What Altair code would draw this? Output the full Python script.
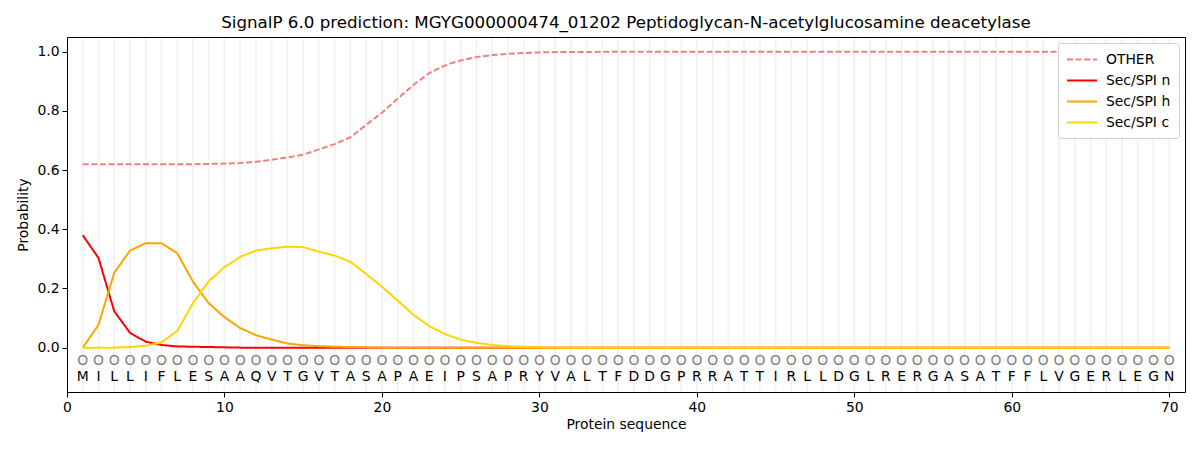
import altair as alt
import pandas as pd

residues = list("MILLIFLESAAQVTGVTASAPAEIPSAPRYVALTFDDGPRRATTIRLLDGLRERGASATFFLVGERLEGN")
n = len(residues)
positions = list(range(1, n + 1))

other_head = [0.620, 0.620, 0.620, 0.620, 0.620, 0.620, 0.620, 0.620, 0.621, 0.622,
              0.624, 0.628, 0.635, 0.643, 0.652, 0.670, 0.688, 0.711, 0.753, 0.794,
              0.842, 0.888, 0.928, 0.954, 0.971, 0.982, 0.989, 0.993, 0.996, 0.998]
other = other_head + [0.999] * 3 + [1.0] * (n - 33)

sp_n_head = [0.380, 0.303, 0.123, 0.050, 0.020, 0.009, 0.004, 0.003, 0.002, 0.001]
sp_n = sp_n_head + [0.0] * (n - len(sp_n_head))

sp_h_head = [0.0, 0.077, 0.253, 0.328, 0.353, 0.353, 0.319, 0.223, 0.150, 0.103,
             0.066, 0.042, 0.027, 0.014, 0.008, 0.005, 0.003, 0.002, 0.001]
sp_h = sp_h_head + [0.0] * (n - len(sp_h_head))

sp_c_head = [0.0, 0.0, 0.0, 0.002, 0.006, 0.018, 0.056, 0.151, 0.224, 0.272,
             0.307, 0.328, 0.336, 0.341, 0.340, 0.324, 0.311, 0.290, 0.249, 0.206,
             0.159, 0.111, 0.073, 0.046, 0.027, 0.016, 0.009, 0.005, 0.003, 0.001]
sp_c = sp_c_head + [0.0] * (n - len(sp_c_head))

series_names = ["OTHER", "Sec/SPI n", "Sec/SPI h", "Sec/SPI c"]
series_values = [other, sp_n, sp_h, sp_c]
series_colors = ["#F08080", "#FF0000", "#FFA500", "#FFD700"]
series_dash = [[6, 2.6], [1, 0], [1, 0], [1, 0]]

rows = []
for name, vals in zip(series_names, series_values):
    for p, v in zip(positions, vals):
        rows.append({"pos": p, "prob": v, "series": name})
lines_df = pd.DataFrame(rows)

seq_df = pd.DataFrame({"pos": positions, "res": residues})

x_scale = alt.Scale(domain=[0, 71], nice=False, zero=False)
y_scale = alt.Scale(domain=[-0.15, 1.05], nice=False, zero=False)

font = "DejaVu Sans"
fs = 13.9

grid = alt.Chart(seq_df).mark_rule(color="#F2F2F2", strokeWidth=1.8).encode(
    x=alt.X("pos:Q", scale=x_scale),
    y=alt.value(1),
    y2=alt.value(354),
)

axis_common = dict(grid=False, labelFont=font, titleFont=font, labelFontSize=fs,
                   titleFontSize=fs, titleFontWeight="normal", domainColor="black",
                   tickColor="black", labelColor="black", titleColor="black",
                   labelFlush=False, tickSize=5, labelPadding=3)

lines = alt.Chart(lines_df).mark_line(strokeWidth=2).encode(
    x=alt.X("pos:Q", scale=x_scale,
            axis=alt.Axis(title="Protein sequence", values=[0, 10, 20, 30, 40, 50, 60, 70],
                          titlePadding=4, **axis_common)),
    y=alt.Y("prob:Q", scale=y_scale,
            axis=alt.Axis(title="Probability", values=[0, 0.2, 0.4, 0.6, 0.8, 1.0], format=".1f",
                          titlePadding=6, **axis_common)),
    color=alt.Color("series:N", sort=series_names,
                    scale=alt.Scale(domain=series_names, range=series_colors),
                    legend=alt.Legend(title=None, orient="top-right", labelFont=font,
                                      labelFontSize=fs, symbolType="M-1,0H3", symbolStrokeWidth=2,
                                      symbolSize=225, strokeColor="#D0D0D0", fillColor="white",
                                      padding=8, cornerRadius=3, offset=6, rowPadding=5,
                                      labelOffset=23, labelColor="black")),
    strokeDash=alt.StrokeDash("series:N", sort=series_names,
                              scale=alt.Scale(domain=series_names, range=series_dash),
                              legend=alt.Legend(title=None, orient="top-right")),
    order=alt.Order("pos:Q"),
)

circles = alt.Chart(seq_df).mark_text(font=font, fontSize=fs, color="#808080",
                                      baseline="middle", text="O").encode(
    x=alt.X("pos:Q", scale=x_scale),
    y=alt.value(361 - 37),
)

letters = alt.Chart(seq_df).mark_text(font=font, fontSize=fs, color="black",
                                      baseline="middle").encode(
    x=alt.X("pos:Q", scale=x_scale),
    y=alt.value(377 - 37),
    text="res:N",
)

chart = alt.layer(grid, lines, circles, letters).properties(
    width=1118,
    height=355,
    title=alt.Title("SignalP 6.0 prediction: MGYG000000474_01202 Peptidoglycan-N-acetylglucosamine deacetylase",
                    font=font, fontSize=16.7, fontWeight="normal", color="black", offset=5),
    padding={"left": 59, "top": 29, "right": 7, "bottom": 50},
    autosize=alt.AutoSizeParams(type="none"),
).configure_view(stroke="black", strokeWidth=1).configure_axis(domain=False)

chart.save("out.html", embed_options={"renderer": "svg", "actions": False})
